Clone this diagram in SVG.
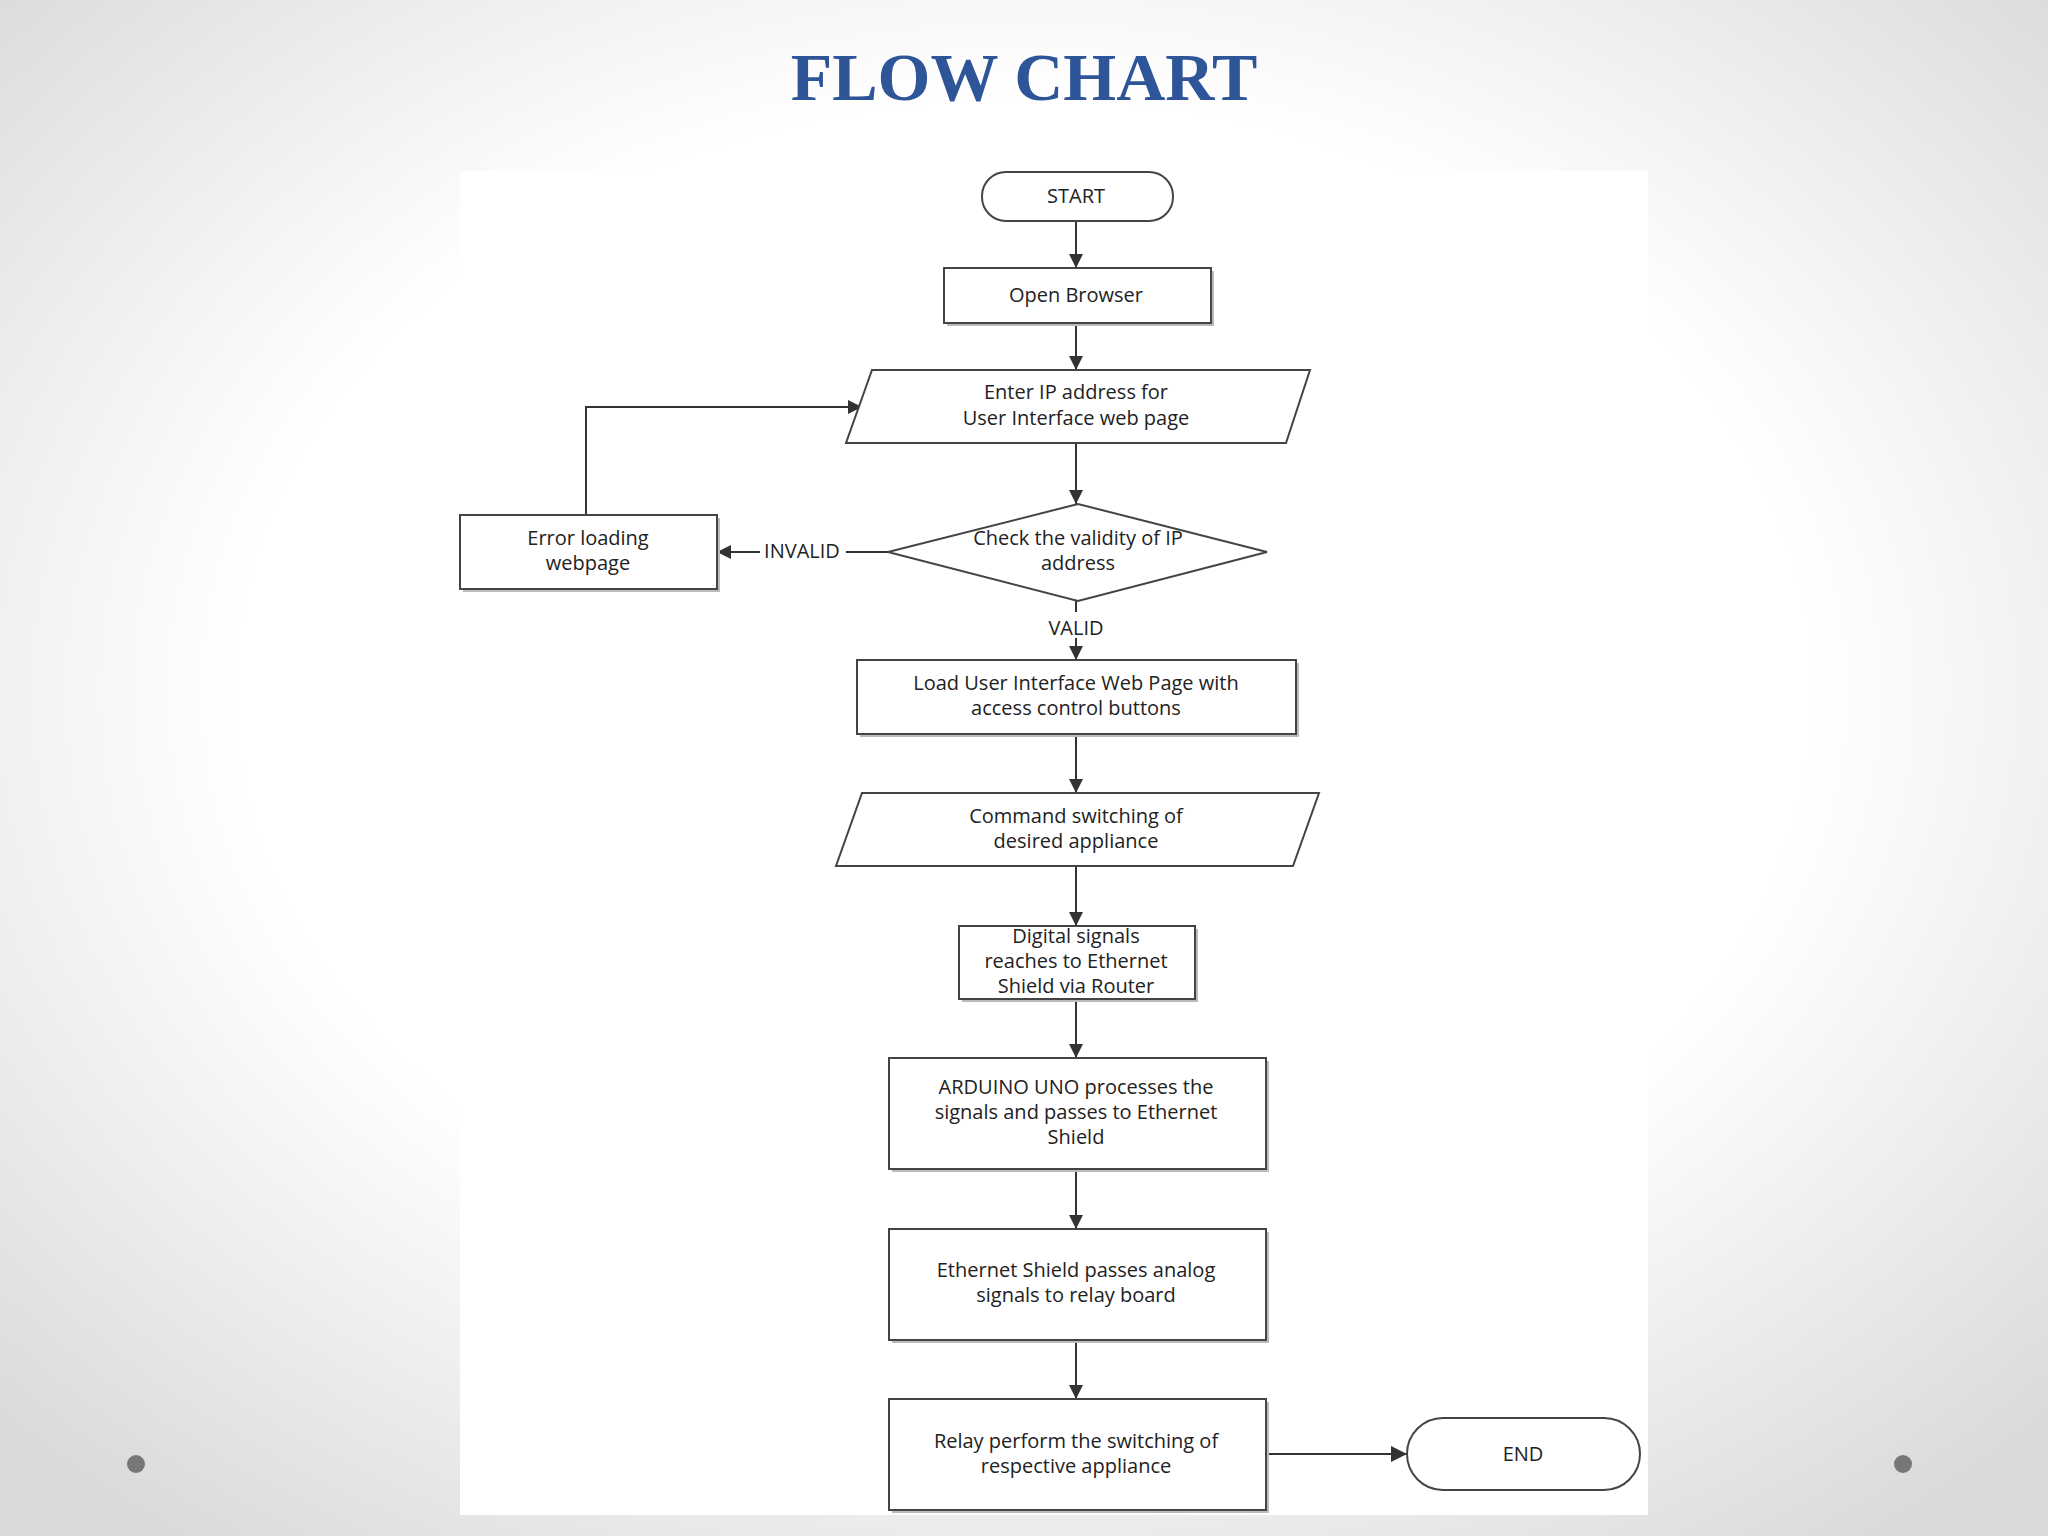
<svg xmlns="http://www.w3.org/2000/svg" width="2048" height="1536" viewBox="0 0 2048 1536">
<defs>
<radialGradient id="bg" cx="50%" cy="45%" r="70%"><stop offset="0.55" stop-color="#ffffff"/><stop offset="1" stop-color="#d9d9d9"/></radialGradient>
<marker id="ah" viewBox="0 0 10 10" refX="10" refY="5" markerWidth="14" markerHeight="14" markerUnits="userSpaceOnUse" orient="auto"><path d="M0,0 L10,5 L0,10 z" fill="#333"/></marker>
<marker id="ahb" viewBox="0 0 10 10" refX="10" refY="5" markerWidth="20" markerHeight="16" markerUnits="userSpaceOnUse" orient="auto"><path d="M0,0 L10,5 L0,10 z" fill="#333"/></marker>
</defs>
<style>
.s{fill:#fff;stroke:#444;stroke-width:2}
.sh{fill:#bbb}
.t{font-family:"Open Sans","DejaVu Sans",sans-serif;font-size:20px;fill:#222;text-anchor:middle}
.c{fill:none;stroke:#333;stroke-width:2;marker-end:url(#ah)}
</style>
<rect width="2048" height="1536" fill="url(#bg)"/>
<text x="1024" y="100" font-family="Liberation Serif,serif" font-weight="bold" font-size="68" fill="#2E5597" text-anchor="middle">FLOW CHART</text>
<rect x="460" y="171" width="1188" height="1344" fill="#fff"/>
<circle cx="136" cy="1464" r="9" fill="#777"/>
<circle cx="1903" cy="1464" r="9" fill="#777"/>
<g id="connectors">
<line class="c" x1="1076" y1="221" x2="1076" y2="268"/>
<line class="c" x1="1076" y1="323" x2="1076" y2="370"/>
<line class="c" x1="1076" y1="443" x2="1076" y2="504"/>
<line class="c" x1="888" y1="552" x2="717" y2="552"/>
<polyline class="c" points="586,515 586,407 862,407"/>
<line class="c" x1="1076" y1="601" x2="1076" y2="660"/>
<line class="c" x1="1076" y1="734" x2="1076" y2="793"/>
<line class="c" x1="1076" y1="866" x2="1076" y2="926"/>
<line class="c" x1="1076" y1="999" x2="1076" y2="1058"/>
<line class="c" x1="1076" y1="1169" x2="1076" y2="1229"/>
<line class="c" x1="1076" y1="1340" x2="1076" y2="1399"/>
<line x1="1266" y1="1454" x2="1407" y2="1454" stroke="#333" stroke-width="2" marker-end="url(#ahb)"/>
<rect x="760" y="538" width="86" height="26" fill="#fff"/>
<text class="t" x="802" y="558">INVALID</text>
<rect x="1040" y="612" width="72" height="26" fill="#fff"/>
<text class="t" x="1076" y="635">VALID</text>
</g>
<g id="start"><rect class="s" x="982" y="172" width="191" height="49" rx="24"/><text class="t" x="1076" y="203">START</text></g>
<g id="open"><rect class="sh" x="947" y="271" width="267" height="55"/><rect class="s" x="944" y="268" width="267" height="55"/><text class="t" x="1076" y="302">Open Browser</text></g>
<g id="enter"><polygon class="s" points="872,370 1310,370 1286,443 846,443"/><text class="t" x="1076" y="399">Enter IP address for</text><text class="t" x="1076" y="425">User Interface web page</text></g>
<g id="check"><polygon class="s" points="888,552 1078,504 1267,552 1078,601"/><text class="t" x="1078" y="545">Check the validity of IP</text><text class="t" x="1078" y="570">address</text></g>
<g id="error"><rect class="sh" x="463" y="518" width="257" height="74"/><rect class="s" x="460" y="515" width="257" height="74"/><text class="t" x="588" y="545">Error loading</text><text class="t" x="588" y="570">webpage</text></g>
<g id="load"><rect class="sh" x="860" y="663" width="439" height="74"/><rect class="s" x="857" y="660" width="439" height="74"/><text class="t" x="1076" y="690">Load User Interface Web Page with</text><text class="t" x="1076" y="715">access control buttons</text></g>
<g id="command"><polygon class="s" points="862,793 1319,793 1293,866 836,866"/><text class="t" x="1076" y="823">Command switching of</text><text class="t" x="1076" y="848">desired appliance</text></g>
<g id="digital"><rect class="sh" x="962" y="929" width="236" height="73"/><rect class="s" x="959" y="926" width="236" height="73"/><text class="t" x="1076" y="943">Digital signals</text><text class="t" x="1076" y="968">reaches to Ethernet</text><text class="t" x="1076" y="993">Shield via Router</text></g>
<g id="arduino"><rect class="sh" x="892" y="1061" width="377" height="111"/><rect class="s" x="889" y="1058" width="377" height="111"/><text class="t" x="1076" y="1094">ARDUINO UNO processes the</text><text class="t" x="1076" y="1119">signals and passes to Ethernet</text><text class="t" x="1076" y="1144">Shield</text></g>
<g id="ethernet"><rect class="sh" x="892" y="1232" width="377" height="111"/><rect class="s" x="889" y="1229" width="377" height="111"/><text class="t" x="1076" y="1277">Ethernet Shield passes analog</text><text class="t" x="1076" y="1302">signals to relay board</text></g>
<g id="relay"><rect class="sh" x="892" y="1402" width="377" height="111"/><rect class="s" x="889" y="1399" width="377" height="111"/><text class="t" x="1076" y="1448">Relay perform the switching of</text><text class="t" x="1076" y="1473">respective appliance</text></g>
<g id="end"><rect class="s" x="1407" y="1418" width="233" height="72" rx="36"/><text class="t" x="1523" y="1461">END</text></g>
</svg>
